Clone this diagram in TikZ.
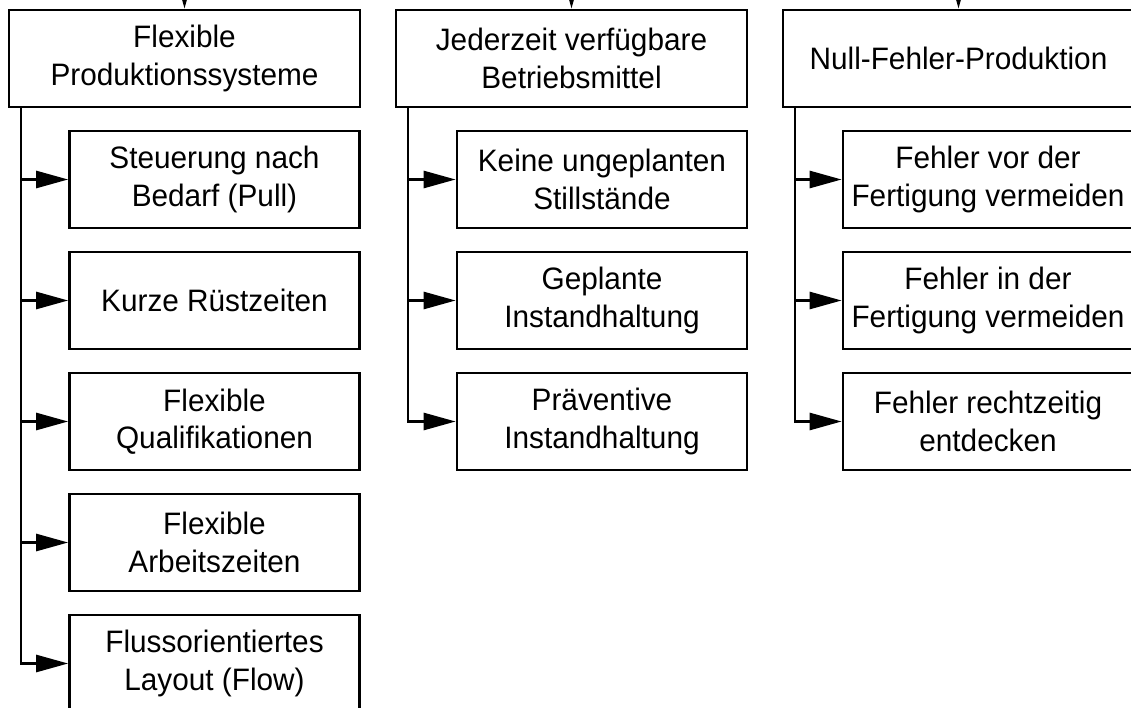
\documentclass[tikz,border=0pt]{standalone}
\usepackage{fontspec}
\setmainfont{Liberation Sans}[FakeStretch=0.96]
\usetikzlibrary{arrows.meta}
\tikzset{
  line/.style={line width=2.7pt, draw=black},
  arr/.style={line, -{Triangle[length=32pt,width=17pt]}},
  hbox/.style={line, rectangle, inner sep=0pt, minimum width=351pt, minimum height=97pt, align=center, font=\fontsize{31}{37.5}\selectfont},
  cbox/.style={line, rectangle, inner sep=0pt, minimum width=290pt, minimum height=97pt, align=center, font=\fontsize{31}{37.5}\selectfont},
}
\begin{document}
\begin{tikzpicture}[x=1pt,y=-1pt]
\useasboundingbox (0,0) rectangle (1131,708);
\clip (0,0) rectangle (1131,708);
% headers
\node[hbox] (h1) at (184.5,58.5) {Flexible\\Produktionssysteme};
\node[hbox] (h2) at (571.5,58.5) {Jederzeit verfügbare\\Betriebsmittel};
\node[hbox] (h3) at (958.5,58.5) {Null-Fehler-Produktion};
% incoming arrows from above
\coordinate (in1) at (184.5,-60);
\coordinate (in2) at (571.5,-60);
\coordinate (in3) at (958.5,-60);
\draw[arr] (in1) -- (h1.north);
\draw[arr] (in2) -- (h2.north);
\draw[arr] (in3) -- (h3.north);
% column 1 children
\node[cbox] (a1) at (214.5,179.5) {Steuerung nach\\Bedarf (Pull)};
\node[cbox] (a2) at (214.5,300.5) {Kurze Rüstzeiten};
\node[cbox] (a3) at (214.5,421.5) {Flexible\\Qualifikationen};
\node[cbox] (a4) at (214.5,542.5) {Flexible\\Arbeitszeiten};
\node[cbox] (a5) at (214.5,663.5) {Flussorientiertes\\Layout (Flow)};
% column 2 children
\node[cbox] (b1) at (602,179.5) {Keine ungeplanten\\Stillstände};
\node[cbox] (b2) at (602,300.5) {Geplante\\Instandhaltung};
\node[cbox] (b3) at (602,421.5) {Präventive\\Instandhaltung};
% column 3 children
\node[cbox] (c1) at (988,179.5) {Fehler vor der\\Fertigung vermeiden};
\node[cbox] (c2) at (988,300.5) {Fehler in der\\Fertigung vermeiden};
\node[cbox] (c3) at (988,421.5) {Fehler rechtzeitig\\entdecken};
% trunks
\coordinate (t1) at (21,107);
\coordinate (t2) at (408,107);
\coordinate (t3) at (795,107);
\foreach \n in {a1,a2,a3,a4,a5} \draw[arr] (t1) |- (\n.west);
\foreach \n in {b1,b2,b3} \draw[arr] (t2) |- (\n.west);
\foreach \n in {c1,c2,c3} \draw[arr] (t3) |- (\n.west);
\end{tikzpicture}
\end{document}
